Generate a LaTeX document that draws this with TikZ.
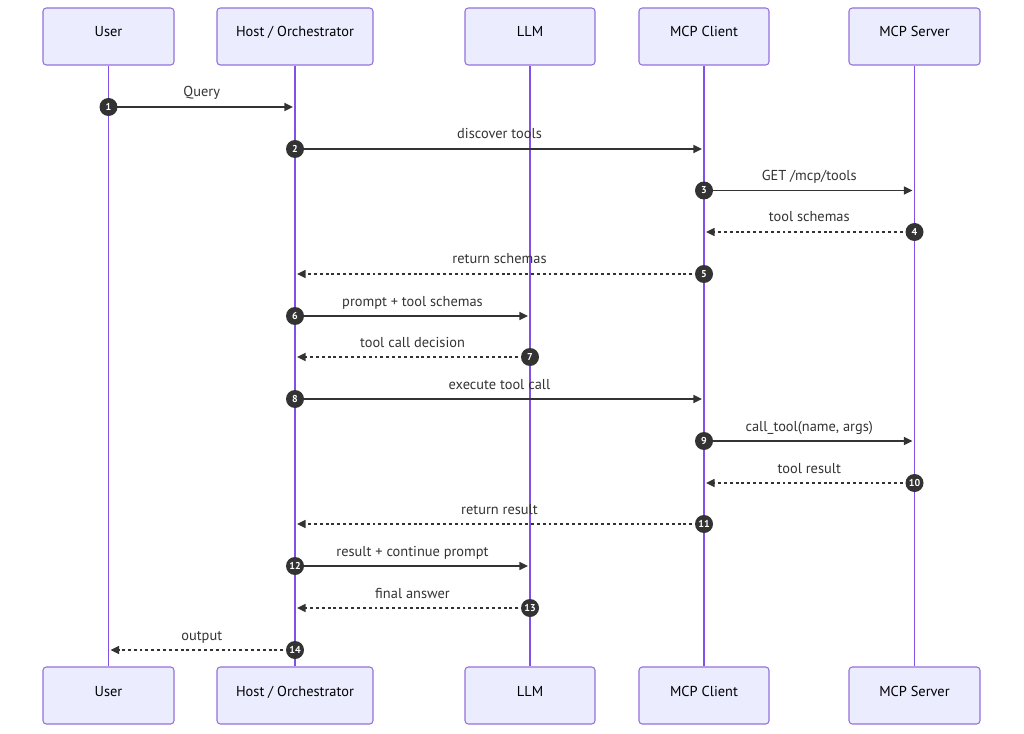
\documentclass[tikz,border=0pt]{standalone}
\usepackage{fontspec}
\setmainfont{PT Sans}
\usetikzlibrary{arrows.meta,positioning,backgrounds}
\definecolor{actfill}{HTML}{ECECFF}
\definecolor{actline}{HTML}{9370DB}
\definecolor{lifeln}{HTML}{8250E6}
\definecolor{ink}{HTML}{333333}

\begin{document}
\begin{tikzpicture}[
 x=0.75pt, y=-0.75pt, >={Triangle[length=6.5pt,width=6pt]},
 font=\fontsize{10.8}{12}\selectfont,
 actor/.style={draw=actline, fill=actfill, rounded corners=2.5pt, line width=0.8pt,
   minimum width=#1, minimum height=42.75pt, align=center,
   text height=7.5pt, text depth=6.75pt},
 life/.style={draw=lifeln, line width=1.2pt},
 num/.style={circle, fill=ink, text=white, inner sep=0pt, minimum size=13.5pt,
   font=\fontsize{7.5}{8}\selectfont\bfseries},
 msg/.style={draw=ink, ->, line width=1.1pt, shorten >=1.5pt},
 ret/.style={msg, dash pattern=on 2.2pt off 2.2pt},
 lbl/.style={midway, anchor=base, yshift=7.5pt, inner sep=0pt, text=ink}]
\useasboundingbox (0,0) rectangle (1024,734);

% actors, top row
\node[actor=98.25pt] (user) at (108.5,36.5) {User};
\node[actor=117pt] (host) at (295,36.5) {Host / Orchestrator};
\node[actor=97.5pt] (llm) at (530,36.5) {LLM};
\node[actor=97.5pt] (client) at (704,36.5) {MCP Client};
\node[actor=98.25pt] (server) at (914.5,36.5) {MCP Server};
% actors, bottom row
\node[actor=98.25pt] (userB) at (108.5,695.5) {User};
\node[actor=117pt] (hostB) at (295,695.5) {Host / Orchestrator};
\node[actor=97.5pt] (llmB) at (530,695.5) {LLM};
\node[actor=97.5pt] (clientB) at (704,695.5) {MCP Client};
\node[actor=98.25pt] (serverB) at (914.5,695.5) {MCP Server};

% step numbers
\node[num] (n1) at (108.5,107) {1};
\node[num] (n2) at (295,149) {2};
\node[num] (n3) at (704,190.5) {3};
\node[num] (n4) at (914.5,232) {4};
\node[num] (n5) at (704,274) {5};
\node[num] (n6) at (295,316) {6};
\node[num] (n7) at (530,357) {7};
\node[num] (n8) at (295,399) {8};
\node[num] (n9) at (704,441) {9};
\node[num] (n10) at (914.5,483) {10};
\node[num] (n11) at (704,524) {11};
\node[num] (n12) at (295,566) {12};
\node[num] (n13) at (530,608) {13};
\node[num] (n14) at (295,650) {14};

\begin{scope}[on background layer]
\draw[life] (user) -- (userB);
\draw[life] (host) -- (hostB);
\draw[life] (llm) -- (llmB);
\draw[life] (client) -- (clientB);
\draw[life] (server) -- (serverB);

% messages
\draw[msg] (n1.center) -- (host |- n1) node[lbl]{Query};
\draw[msg] (n2.center) -- (client |- n2) node[lbl]{discover tools};
\draw[msg] (n3.center) -- (server |- n3) node[lbl]{GET /mcp/tools};
\draw[ret] (n4.center) -- (client |- n4) node[lbl]{tool schemas};
\draw[ret] (n5.center) -- (host |- n5) node[lbl]{return schemas};
\draw[msg] (n6.center) -- (llm |- n6) node[lbl]{prompt + tool schemas};
\draw[ret] (n7.center) -- (host |- n7) node[lbl]{tool call decision};
\draw[msg] (n8.center) -- (client |- n8) node[lbl]{execute tool call};
\draw[msg] (n9.center) -- (server |- n9) node[lbl]{call\_tool(name, args)};
\draw[ret] (n10.center) -- (client |- n10) node[lbl]{tool result};
\draw[ret] (n11.center) -- (host |- n11) node[lbl]{return result};
\draw[msg] (n12.center) -- (llm |- n12) node[lbl]{result + continue prompt};
\draw[ret] (n13.center) -- (host |- n13) node[lbl]{final answer};
\draw[ret] (n14.center) -- (user |- n14) node[lbl]{output};
\end{scope}
\end{tikzpicture}
\end{document}
